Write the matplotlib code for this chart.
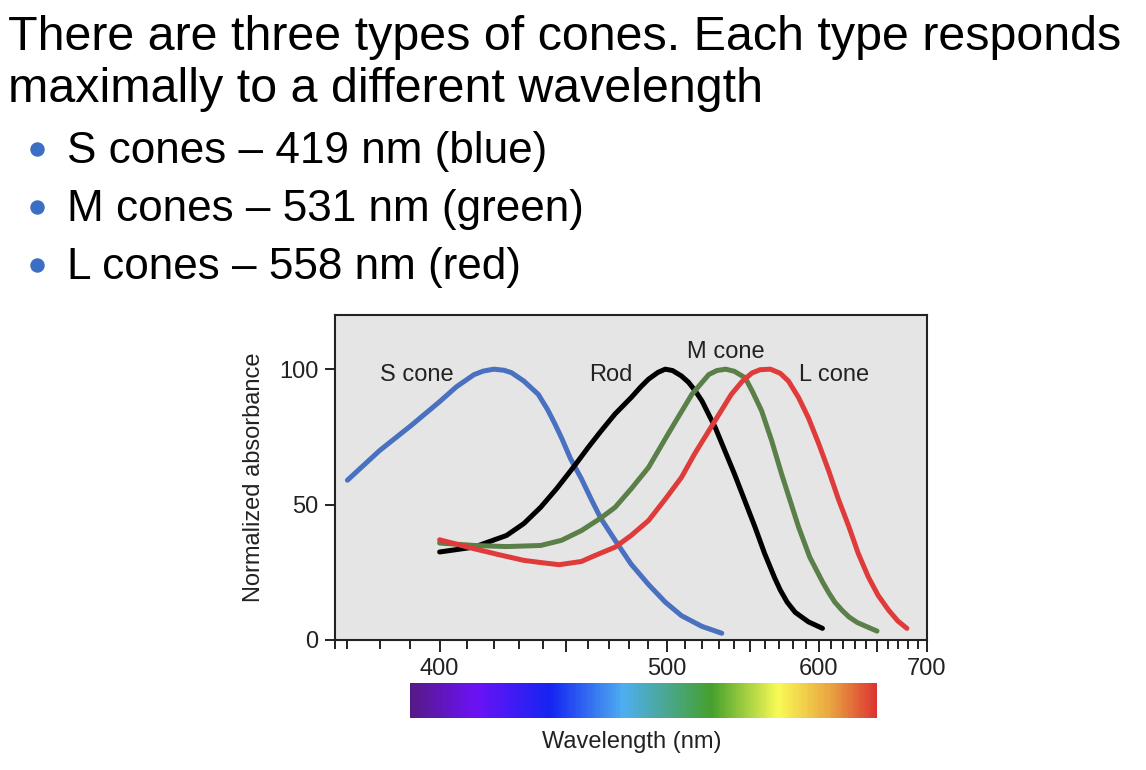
import numpy as np
import matplotlib
matplotlib.use("Agg")
import matplotlib.pyplot as plt
from matplotlib.colors import LinearSegmentedColormap
from matplotlib.lines import Line2D

plt.rcParams['font.family'] = ['Liberation Sans', 'DejaVu Sans']

# text on the slide
title_lines = ["There are three types of cones. Each type responds",
               "maximally to a different wavelength"]
bullets = ["S cones \u2013 419 nm (blue)",
           "M cones \u2013 531 nm (green)",
           "L cones \u2013 558 nm (red)"]

# absorbance curves (wavelength nm, normalized absorbance)
s_wl = [370, 380, 390, 400, 406, 412.5, 416, 420, 424, 427, 432, 438, 442, 445, 448, 452, 457, 461.5, 466, 473, 481, 490, 499, 508, 520, 532]
s_val = [59, 70, 79, 88, 93.5, 98, 99.3, 100, 99.6, 98.7, 95.6, 90.7, 85, 80, 74.7, 67, 59.5, 52, 45, 36.8, 28, 20.5, 14, 9, 5, 2.5]

rod_wl = [400, 412.5, 425, 432, 439, 446, 454, 460, 466, 473, 481, 486, 490, 495, 499, 503, 508, 512, 516, 520, 528, 540, 553.5, 560, 567, 571, 576, 582, 592, 603]
rod_val = [32.5, 34.3, 38.6, 43, 49, 56, 64.5, 71, 77, 83.5, 89.5, 93.5, 96.3, 98.8, 100, 99.5, 97.5, 95.2, 92, 88.2, 78.4, 61.3, 41.7, 32, 23, 18.5, 14, 10.2, 6.7, 4.3]

m_wl = [400, 412.5, 425, 439, 448, 457, 466, 473, 481, 490, 500.5, 514, 524, 529, 534.5, 540, 547, 552, 558, 565, 572, 584.5, 593, 603, 608, 613, 619, 625, 632, 639, 650]
m_val = [35.8, 34.9, 34.5, 34.9, 36.8, 40.4, 45, 49, 55.8, 63.7, 76, 90.7, 98, 99.5, 100, 99.2, 96.8, 91.5, 84.6, 73.5, 61.3, 41.7, 30.6, 21.5, 17.5, 14, 11, 8.5, 6.5, 5.2, 3.3]

l_wl = [400, 412.5, 422, 432, 440, 447, 457, 461.5, 473, 481, 490, 499, 508, 515.5, 524, 538, 545, 551.5, 557, 564, 571, 577, 584.5, 592, 600, 608, 616, 625, 633, 642, 651, 661, 670, 679]
l_val = [37, 33.7, 31.5, 29.4, 28.5, 27.8, 29, 30.6, 34.3, 38.6, 44.1, 52, 60, 68.6, 77.2, 90.7, 95.5, 98.6, 99.8, 100, 98.5, 95.6, 89.5, 82, 72.5, 62.5, 52, 41.7, 32, 23.3, 16.5, 11, 7, 4.3]

curve_labels = ["S cone", "Rod", "M cone", "L cone"]
label_wl = [392.3, 471, 534.4, 612.5]
label_y = [95.6, 95.6, 104.2, 95.6]

# visible spectrum strip
spectrum_wl = [390, 413, 443, 477, 526, 570, 610, 650]
spectrum_col = ['#561a87', '#6b12f5', '#1524f2', '#4eaef0', '#45a02c', '#f9fa55', '#e9a441', '#dc3531']

W, H = 1146, 770
fig = plt.figure(figsize=(W / 100, H / 100), dpi=100)
fig.patch.set_facecolor('white')

# slide text
fig.text(8 / W, 1 - 50 / H, title_lines[0], fontsize=34.8, va='baseline')
fig.text(8 / W, 1 - 101.7 / H, title_lines[1], fontsize=34.8, va='baseline')
for i, b in enumerate(bullets):
    base = 163.3 + i * 58
    fig.add_artist(Line2D([36.7 / W], [1 - (base - 14.5) / H], marker='o', markersize=9.4,
                          color='#3b6fc6', transform=fig.transFigure))
    fig.text(67 / W, 1 - base / H, b, fontsize=31.8, va='baseline')

# position along the axis is linear in 1/wavelength
fwd = lambda x: -1.0 / x
inv = lambda y: -1.0 / y
xmin, xmax = 366.3, 700

ax = fig.add_axes([335 / W, 1 - 640 / H, 592 / W, 325 / H])
ax.set_xscale('function', functions=(fwd, inv))
ax.set_facecolor('#e5e5e5')

lw = 3.6
style = dict(lw=lw, solid_capstyle='round', solid_joinstyle='round')
ax.plot(s_wl, s_val, color='#4a70c0', **style)
ax.plot(rod_wl, rod_val, color='black', **style)
ax.plot(m_wl, m_val, color='#5a7f48', **style)
ax.plot(l_wl, l_val, color='#e03b3b', **style)

for t, xw, yv in zip(curve_labels, label_wl, label_y):
    ax.text(xw, yv, t, fontsize=17, ha='center', va='baseline', color='#222222')

ax.set_xlim(xmin, xmax)
ax.set_ylim(0, 120)
ax.set_yticks([0, 50, 100])
ax.set_xticks([400, 450, 500, 550, 600, 650, 700])
ax.set_xticklabels(['400', '', '500', '', '600', '', '700'])
minor = [xmin] + [w for w in range(370, 700, 10) if w % 50 != 0]
ax.set_xticks(minor, minor=True)
ax.tick_params(axis='both', which='major', labelsize=17, length=8.6, width=1.4, pad=4.5,
               color='#222222', labelcolor='#222222')
ax.tick_params(axis='x', which='minor', length=6.5, width=1.4, color='#222222')
ax.tick_params(axis='y', which='major', length=7.2)
for sp in ax.spines.values():
    sp.set_linewidth(1.5)
    sp.set_color('#222222')

fig.text(254 / W, 1 - 477 / H, 'Normalized absorbance', fontsize=17, rotation=90,
         ha='center', va='center', color='#222222')

# spectrum strip below the axis
cax = fig.add_axes([335 / W, 1 - 718 / H, 592 / W, 35 / H])
cax.set_xscale('function', functions=(fwd, inv))
lo, hi = spectrum_wl[0], spectrum_wl[-1]
pos = [(1 / lo - 1 / w) / (1 / lo - 1 / hi) for w in spectrum_wl]
cmap = LinearSegmentedColormap.from_list('spec', list(zip(pos, spectrum_col)))
edges = np.linspace(lo, hi, 400)
centers = 0.5 * (edges[:-1] + edges[1:])
cval = (1 / lo - 1 / centers) / (1 / lo - 1 / hi)
cax.pcolormesh(edges, [0, 1], cval[np.newaxis, :], cmap=cmap, vmin=0, vmax=1, shading='flat')
cax.set_xlim(xmin, xmax)
cax.set_ylim(0, 1)
cax.axis('off')

fig.text(632 / W, 1 - 742 / H, 'Wavelength (nm)', fontsize=17, ha='center', va='center', color='#222222')

fig.savefig('out.png', dpi=100)
